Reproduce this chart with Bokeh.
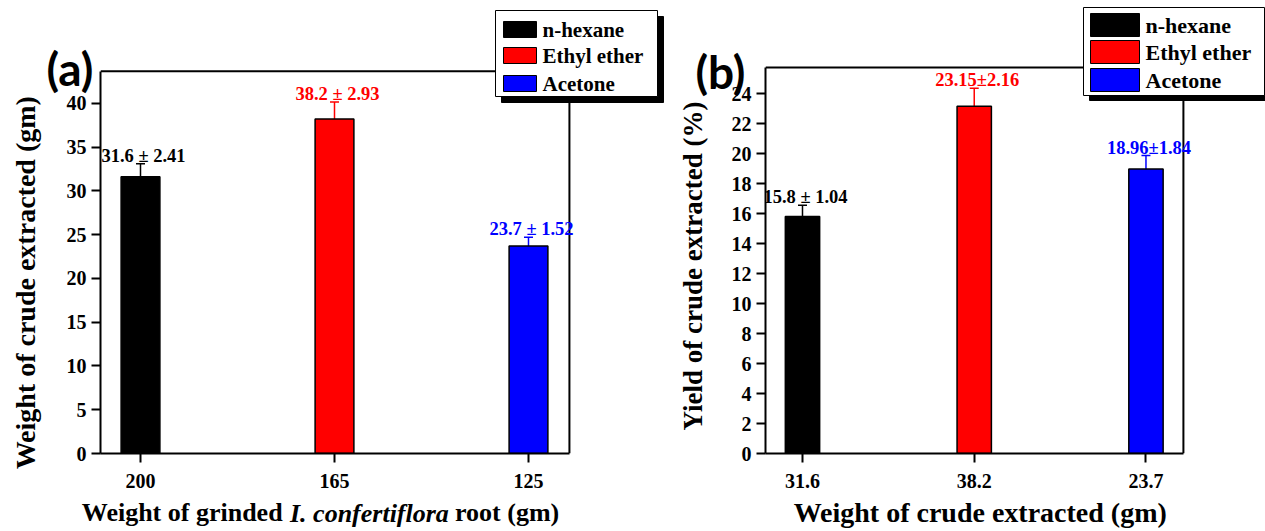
import numpy as np
from bokeh.plotting import figure
from bokeh.models import Range1d, FixedTicker, BoxAnnotation, Label, ColumnDataSource, LinearAxis
from bokeh.layouts import row
from bokeh.core.properties import value
from bokeh.embed import file_html
from bokeh.resources import INLINE

# ---------------- data ----------------
solvents = ["n-hexane", "Ethyl ether", "Acetone"]
colors = ["#000000", "#FF0000", "#0000FF"]

root_weight_labels = ["200", "165", "125"]
crude_weight = [31.6, 38.2, 23.7]
crude_weight_err = [1.5, 1.95, 1.0]
crude_weight_text = ["31.6 \u00b1 2.41", "38.2 \u00b1 2.93", "23.7 \u00b1 1.52"]
weight_ticks = [0, 5, 10, 15, 20, 25, 30, 35, 40]

crude_weight_labels = ["31.6", "38.2", "23.7"]
crude_yield = [15.8, 23.15, 18.96]
crude_yield_err = [0.75, 1.2, 0.9]
crude_yield_text = ["15.8 \u00b1 1.04", "23.15\u00b12.16", "18.96\u00b11.84"]
yield_ticks = [0, 2, 4, 6, 8, 10, 12, 14, 16, 18, 20, 22, 24]

SERIF = "Liberation Serif"
SANS = "Lato"


def make_panel(width, height, border_left, border_bottom, x_range, box_right, y_end, box_top,
               yticks, tick_labels, vals, errs, texts):
    p = figure(width=width, height=height, output_backend="svg", toolbar_location=None,
               x_range=Range1d(*x_range), y_range=Range1d(0, y_end),
               min_border_left=border_left, min_border_right=0, min_border_top=0,
               min_border_bottom=border_bottom)
    p.grid.visible = False
    p.outline_line_color = None
    p.background_fill_color = "white"
    p.border_fill_color = "white"

    xs = np.arange(1, len(vals) + 1)
    tops = np.array(vals) + np.array(errs)
    src = ColumnDataSource(dict(x=xs, val=vals, top=tops, color=colors, text=texts))

    # closing top and right edges of the plot box
    p.segment(x0=[x_range[0], box_right], y0=[box_top, 0], x1=[box_right, box_right],
              y1=[box_top, box_top], line_color="black", line_width=2)

    p.segment(x0="x", y0="val", x1="x", y1="top", line_color="color", line_width=1.5, source=src)
    p.scatter(x="x", y="top", marker="dash", size=9, line_color="color", line_width=1.5, source=src)
    p.vbar(x="x", width=0.2, top="val", bottom=0, fill_color="color", line_color="black",
           line_width=1.5, source=src)
    p.text(x="x", y="top", text="text", text_color="color", text_align="center",
           text_baseline="alphabetic", x_offset=3, y_offset=-8, text_font=value(SERIF),
           text_font_style="bold", text_font_size="18.5px", source=src)

    for ax in (p.xaxis[0], p.yaxis[0]):
        ax.axis_line_width = 2
        ax.axis_line_color = "black"
        ax.major_tick_line_width = 2
        ax.major_tick_out = 9
        ax.major_tick_in = 0
        ax.minor_tick_out = 0
        ax.minor_tick_in = 0
        ax.major_label_text_font = SERIF
        ax.major_label_text_font_style = "bold"
        ax.major_label_text_font_size = "20px"
        ax.major_label_text_color = "black"

    p.xaxis.ticker = FixedTicker(ticks=list(xs))
    p.xaxis.major_label_overrides = {int(i): t for i, t in zip(xs, tick_labels)}
    p.xaxis.major_label_standoff = 11
    p.xaxis.bounds = (x_range[0], box_right)

    p.yaxis.ticker = FixedTicker(ticks=yticks)
    p.yaxis.major_label_standoff = 5
    p.yaxis.bounds = (0, box_top)
    return p


def text_axis(p, side, positions, texts, font, size, style, standoff, orientation="horizontal"):
    """An axis with no line or ticks that only carries text labels."""
    ax = LinearAxis(ticker=FixedTicker(ticks=list(positions)),
                    major_label_overrides=dict(zip(positions, texts)),
                    axis_line_color=None, major_tick_line_color=None, minor_tick_line_color=None,
                    major_tick_out=0, major_tick_in=0, minor_tick_out=0, minor_tick_in=0,
                    major_label_standoff=standoff, major_label_orientation=orientation,
                    major_label_text_font=font, major_label_text_font_style=style,
                    major_label_text_font_size=size, major_label_text_color="black")
    p.add_layout(ax, side)
    return ax


def add_legend(p, box, shadow, sw_x, rows, sw_half, text_x, font_size):
    l, r, b, t = shadow
    p.add_layout(BoxAnnotation(left=l, right=r, bottom=b, top=t, left_units="screen",
                               right_units="screen", bottom_units="screen", top_units="screen",
                               fill_color="black", fill_alpha=1, line_color="black", line_alpha=1))
    l, r, b, t = box
    p.add_layout(BoxAnnotation(left=l, right=r, bottom=b, top=t, left_units="screen",
                               right_units="screen", bottom_units="screen", top_units="screen",
                               fill_color="white", fill_alpha=1, line_color="black", line_alpha=1,
                               line_width=1))
    for name, col, yc in zip(solvents, colors, rows):
        p.add_layout(BoxAnnotation(left=sw_x[0], right=sw_x[1], bottom=yc - sw_half, top=yc + sw_half,
                                   left_units="screen", right_units="screen", bottom_units="screen",
                                   top_units="screen", fill_color=col, fill_alpha=1,
                                   line_color="black", line_alpha=1, line_width=1))
        p.add_layout(Label(x=text_x, y=yc, x_units="screen", y_units="screen", text=name,
                           text_font=SERIF, text_font_style="bold", text_font_size=font_size,
                           text_baseline="middle", text_align="left", text_color="black"))


# ---------------- panel (a) ----------------
pa = make_panel(670, 531, 100, 77, (0.7938, 3.732), 3.211, 51.74, 43.65,
                weight_ticks, root_weight_labels, crude_weight, crude_weight_err, crude_weight_text)
add_legend(pa, (395, 557, 357, 443), (401, 563, 351, 437), (403, 436), (424, 398, 370), 8, 442, "21px")
text_axis(pa, "left", [44], ["(a)"], SANS, "46px", "bold", -30)
text_axis(pa, "left", [19.5], ["Weight of crude extracted (gm)"], SERIF, "28px", "bold", 2,
          orientation="vertical")
text_axis(pa, "below", [1.215, 2.89], ["Weight of grinded", "root (gm)"], SERIF, "26px", "bold", 7)
text_axis(pa, "below", [2.18], ["I. confertiflora"], SERIF, "26px", "bold italic", -31)

# ---------------- panel (b) ----------------
pb = make_panel(595, 531, 95, 78, (0.7846, 3.696), 3.218, 30.2, 25.73,
                yield_ticks, crude_weight_labels, crude_yield, crude_yield_err, crude_yield_text)
add_legend(pb, (318, 499, 358, 446), (324, 505, 353, 441), (325, 374), (428.5, 401.5, 373.5), 11.5,
           380, "22px")
text_axis(pb, "left", [25.5], ["(b)"], SANS, "46px", "bold", -17)
text_axis(pb, "left", [12.5], ["Yield of crude extracted (%)"], SERIF, "27px", "bold", -15,
          orientation="vertical")
text_axis(pb, "below", [2.035], ["Weight of crude extracted (gm)"], SERIF, "28px", "bold", 6)

layout = row(pa, pb)
open("out.html", "w").write(file_html(layout, INLINE))
